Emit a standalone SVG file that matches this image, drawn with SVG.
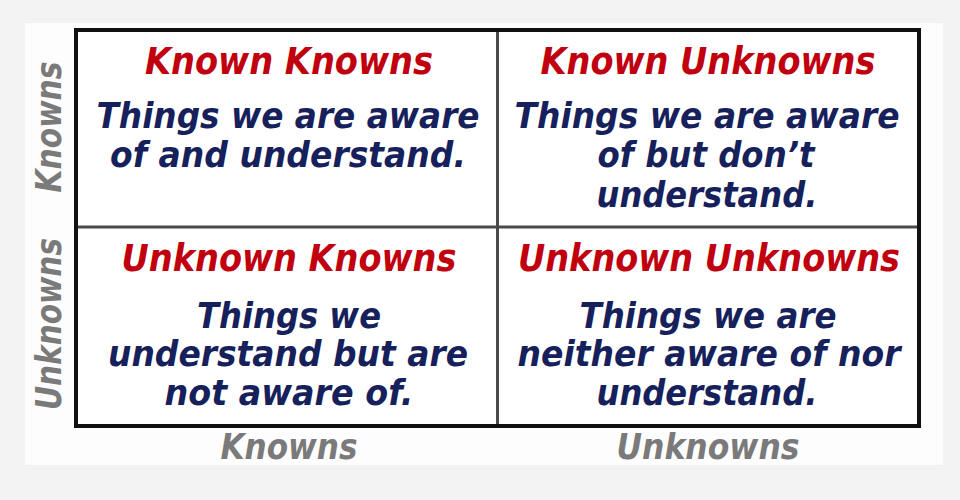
<svg xmlns="http://www.w3.org/2000/svg" width="960" height="500" viewBox="0 0 960 500">
<style>
text{font-family:"DejaVu Sans","Verdana",sans-serif;font-weight:bold;font-style:italic;text-anchor:middle}
.h{fill:#c1000f;font-size:37px}
.b{fill:#16215c;font-size:35px}
.ax{fill:#7a7a7a;font-size:35px}
.grid{stroke:#4a4a4a;stroke-width:3;fill:none}
.frame{stroke:#111;stroke-width:4;fill:#fff}
</style>
<rect x="0" y="0" width="960" height="500" fill="#f3f3f3"/>
<rect x="25" y="23" width="918" height="442" fill="#fdfdfd"/>
<g id="connectors">
<rect class="frame" x="76" y="30" width="843" height="396"/>
<line class="grid" x1="497.5" y1="32" x2="497.5" y2="424"/>
<line class="grid" x1="78" y1="227" x2="917" y2="227"/>
</g>
<g id="known-knowns">
<text class="h" x="289" y="74" textLength="288" lengthAdjust="spacingAndGlyphs">Known Knowns</text>
<text class="b" x="288" y="128" textLength="383" lengthAdjust="spacingAndGlyphs">Things we are aware</text>
<text class="b" x="288" y="167" textLength="356" lengthAdjust="spacingAndGlyphs">of and understand.</text>
</g>
<g id="known-unknowns">
<text class="h" x="708" y="74" textLength="335" lengthAdjust="spacingAndGlyphs">Known Unknowns</text>
<text class="b" x="707" y="128" textLength="385" lengthAdjust="spacingAndGlyphs">Things we are aware</text>
<text class="b" x="706" y="167" textLength="217" lengthAdjust="spacingAndGlyphs">of but don’t</text>
<text class="b" x="707" y="207" textLength="221" lengthAdjust="spacingAndGlyphs">understand.</text>
</g>
<g id="unknown-knowns">
<text class="h" x="289" y="271" textLength="335" lengthAdjust="spacingAndGlyphs">Unknown Knowns</text>
<text class="b" x="289" y="328" textLength="184" lengthAdjust="spacingAndGlyphs">Things we</text>
<text class="b" x="288" y="366" textLength="360" lengthAdjust="spacingAndGlyphs">understand but are</text>
<text class="b" x="289" y="405" textLength="249" lengthAdjust="spacingAndGlyphs">not aware of.</text>
</g>
<g id="unknown-unknowns">
<text class="h" x="709" y="271" textLength="382" lengthAdjust="spacingAndGlyphs">Unknown Unknowns</text>
<text class="b" x="708" y="328" textLength="257" lengthAdjust="spacingAndGlyphs">Things we are</text>
<text class="b" x="709" y="366" textLength="383" lengthAdjust="spacingAndGlyphs">neither aware of nor</text>
<text class="b" x="707" y="405" textLength="221" lengthAdjust="spacingAndGlyphs">understand.</text>
</g>
<g id="axis-labels">
<text class="ax" x="289" y="459" textLength="137" lengthAdjust="spacingAndGlyphs">Knowns</text>
<text class="ax" x="708" y="459" textLength="183" lengthAdjust="spacingAndGlyphs">Unknowns</text>
<text class="ax" transform="translate(61,127) rotate(-90)" textLength="131" lengthAdjust="spacingAndGlyphs">Knowns</text>
<text class="ax" transform="translate(61,324) rotate(-90)" textLength="172" lengthAdjust="spacingAndGlyphs">Unknowns</text>
</g>
</svg>
